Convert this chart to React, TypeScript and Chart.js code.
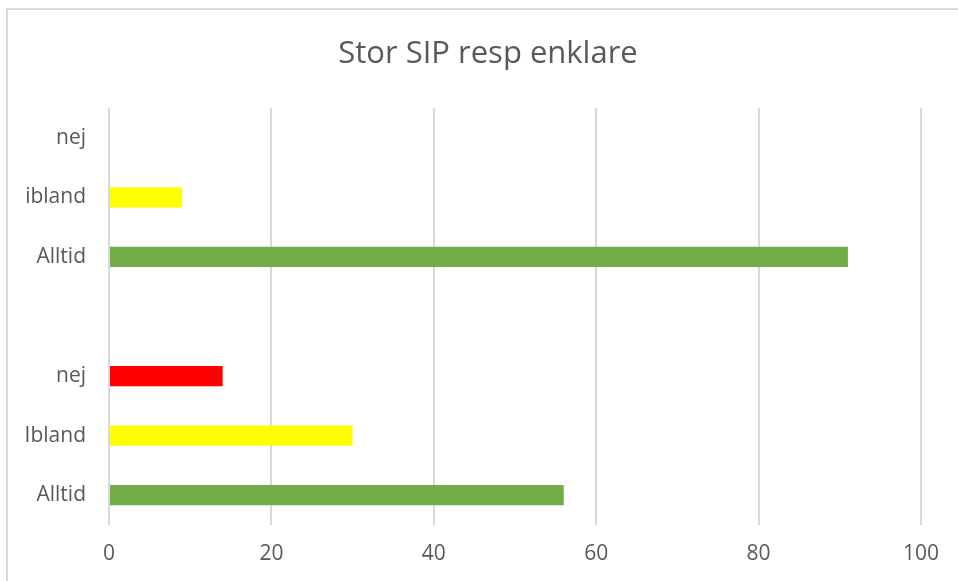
import React, { useEffect, useRef } from "react";
import { Chart, registerables } from "chart.js";

Chart.register(...registerables);

const categories = ["nej", "ibland", "Alltid", "", "nej", "Ibland", "Alltid"];
const values = [0, 9, 91, null, 14, 30, 56];
const barColors = ["#ff0000", "#ffff00", "#70ad47", "#ffffff", "#ff0000", "#ffff00", "#70ad47"];
const xTicks = [0, 20, 40, 60, 80, 100];
const titleText = "Stor SIP resp enklare";

const titleShift = {
  id: "titleShift",
  afterLayout(chart: any) {
    const t = chart.titleBlock;
    if (t) {
      t.left = 55;
    }
  },
};

export default function App() {
  const ref = useRef<HTMLCanvasElement | null>(null);

  useEffect(() => {
    if (!ref.current) return;
    const chart = new Chart(ref.current, {
      type: "bar",
      data: {
        labels: categories,
        datasets: [
          {
            data: values as any,
            backgroundColor: barColors,
            borderWidth: 0,
            categoryPercentage: 1,
            barPercentage: 0.34,
          },
        ],
      },
      options: {
        indexAxis: "y",
        animation: false,
        responsive: false,
        layout: { padding: { left: 0, right: 37, top: 0, bottom: 0 } },
        plugins: {
          legend: { display: false },
          tooltip: { enabled: false },
          title: {
            display: true,
            text: titleText,
            color: "#595959",
            font: { family: "Open Sans", size: 31, weight: "normal" },
            padding: { top: 35.4, bottom: 35.4 },
          },
        },
        scales: {
          x: {
            min: xTicks[0],
            max: xTicks[xTicks.length - 1],
            afterFit: (s: any) => {
              s.height = 56;
            },
            afterBuildTicks: (s: any) => {
              s.ticks = xTicks.map((v) => ({ value: v }));
            },
            grid: { color: "#d9d9d9", lineWidth: 2, drawTicks: false },
            border: { display: false },
            ticks: {
              color: "#595959",
              font: { family: "Open Sans", size: 21 },
              padding: 16,
            },
          },
          y: {
            afterFit: (s: any) => {
              s.width = 109;
            },
            grid: { display: false, drawTicks: false },
            border: { display: false },
            ticks: {
              color: "#595959",
              font: { family: "Open Sans", size: 21 },
              padding: 23,
            },
          },
        },
      },
      plugins: [titleShift],
    });
    return () => chart.destroy();
  }, []);

  return (
    <div style={{ position: "fixed", left: 0, top: 0, width: 958, height: 581, background: "#ffffff", overflow: "hidden" }}>
      <div
        style={{
          position: "absolute",
          left: 6,
          top: 8,
          width: 1000,
          height: 700,
          borderLeft: "2.5px solid #d9d9d9",
          borderTop: "2.5px solid #d9d9d9",
        }}
      />
      <canvas ref={ref} width={958} height={581} style={{ position: "absolute", left: 0, top: 0 }} />
    </div>
  );
}
